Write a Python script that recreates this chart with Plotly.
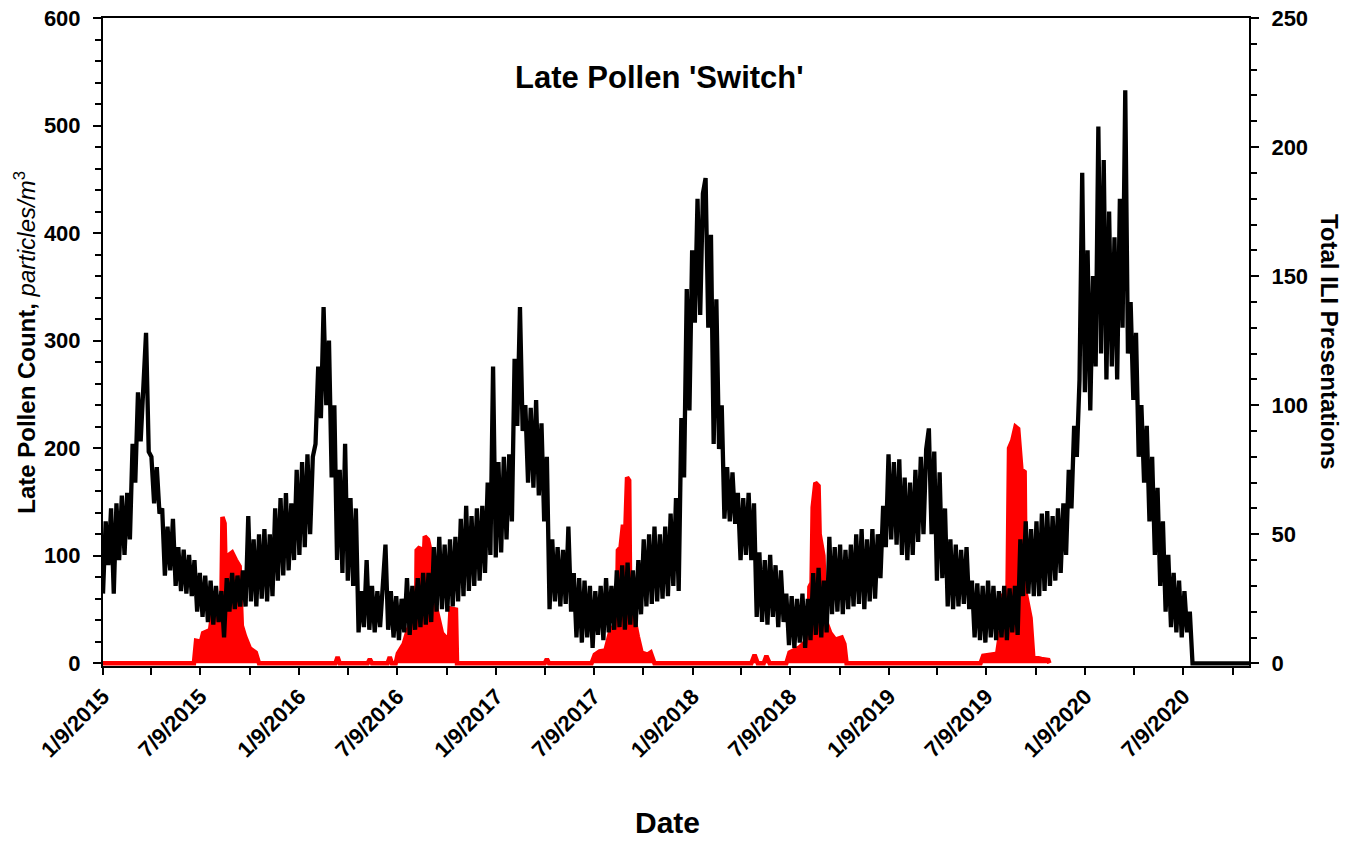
import pandas as pd
import plotly.graph_objects as go

# ---------------- data ----------------
# Total ILI presentations (right axis), values every 5 days starting 2015-01-09
ili_start = "2015-01-09"
ili_step_days = 5
ili_values = [
    27, 55, 38, 60, 27, 62, 40, 65, 42, 66,
    48, 85, 70, 105, 86, 112, 128, 82, 80, 62,
    76, 58, 60, 34, 53, 36, 56, 30, 45, 28,
    44, 27, 42, 26, 40, 20, 35, 18, 34, 16,
    32, 15, 30, 16, 28, 10, 33, 20, 35, 21,
    34, 22, 36, 22, 57, 24, 48, 22, 50, 25,
    52, 24, 50, 26, 60, 32, 64, 34, 66, 36,
    62, 40, 75, 42, 78, 45, 81, 50, 80, 85,
    115, 95, 138, 100, 125, 72, 100, 40, 75, 35,
    85, 32, 64, 30, 60, 12, 28, 14, 40, 13,
    30, 12, 28, 14, 30, 46, 13, 28, 10, 26,
    9, 25, 12, 33, 11, 30, 13, 33, 14, 35,
    15, 35, 16, 45, 20, 49, 21, 46, 20, 48,
    22, 49, 24, 56, 26, 61, 28, 57, 30, 60,
    32, 61, 35, 70, 42, 115, 41, 78, 43, 80,
    48, 81, 55, 118, 92, 138, 90, 100, 70, 99,
    68, 102, 65, 93, 55, 80, 21, 48, 24, 45,
    22, 44, 23, 53, 20, 35, 10, 33, 8, 32,
    10, 30, 6, 28, 11, 30, 9, 33, 12, 30,
    13, 36, 14, 38, 13, 39, 15, 36, 14, 40,
    19, 48, 22, 50, 23, 53, 24, 50, 25, 53,
    26, 58, 30, 64, 28, 95, 72, 145, 98, 160,
    132, 180, 135, 182, 188, 130, 166, 85, 141, 83,
    100, 56, 76, 55, 74, 54, 66, 40, 64, 42,
    66, 40, 62, 18, 43, 16, 40, 15, 42, 18,
    38, 14, 36, 16, 27, 7, 26, 6, 25, 8,
    27, 6, 25, 9, 35, 11, 37, 10, 32, 12,
    49, 19, 45, 20, 46, 19, 44, 21, 46, 22,
    50, 23, 52, 21, 48, 24, 52, 25, 50, 33,
    61, 45, 81, 48, 78, 46, 79, 42, 72, 40,
    70, 42, 75, 47, 80, 50, 83, 91, 50, 82,
    32, 74, 33, 60, 22, 48, 21, 46, 22, 44,
    23, 45, 21, 32, 10, 31, 9, 30, 8, 32,
    10, 30, 9, 28, 10, 30, 9, 29, 12, 30,
    11, 48, 26, 55, 27, 52, 26, 55, 26, 58,
    28, 59, 30, 57, 32, 60, 35, 62, 42, 75,
    60, 92, 80, 110, 190, 105, 160, 98, 150, 115,
    208, 120, 195, 110, 175, 115, 165, 110, 180, 130,
    222, 120, 140, 102, 128, 80, 100, 70, 92, 55,
    80, 42, 68, 30, 55, 20, 42, 14, 35, 12,
    32, 10, 28, 12, 20,
    0, 0, 0, 0, 0, 0, 0, 0, 0, 0, 0,
    0, 0, 0, 0, 0, 0, 0, 0, 0, 0, 0,
]

# Late pollen count (left axis), particles/m3
pollen_dates = [
    "2015-01-09", "2015-06-27", "2015-07-01", "2015-07-10", "2015-07-14",
    "2015-07-27", "2015-08-01", "2015-08-11", "2015-08-17", "2015-08-19",
    "2015-08-23", "2015-08-26", "2015-08-29", "2015-09-06", "2015-09-13",
    "2015-09-20", "2015-09-24", "2015-09-30", "2015-10-09", "2015-10-20",
    "2015-10-26",
    "2016-03-16", "2016-03-20", "2016-03-24", "2016-05-15", "2016-05-19",
    "2016-05-23", "2016-06-21", "2016-06-25", "2016-06-29", "2016-07-06",
    "2016-07-10", "2016-07-21", "2016-07-28", "2016-08-09", "2016-08-13",
    "2016-08-14", "2016-08-20", "2016-08-23", "2016-08-25", "2016-08-29",
    "2016-09-04", "2016-09-11", "2016-09-16", "2016-09-19", "2016-09-30",
    "2016-10-13", "2016-10-16", "2016-10-26", "2016-10-28",
    "2017-04-09", "2017-04-13", "2017-04-17", "2017-07-05", "2017-07-11",
    "2017-07-20", "2017-07-31", "2017-08-08", "2017-08-17", "2017-08-21",
    "2017-08-23", "2017-08-28", "2017-09-01", "2017-09-06", "2017-09-09",
    "2017-09-13", "2017-09-15", "2017-09-21", "2017-09-29", "2017-10-06",
    "2017-10-17", "2017-10-23", "2017-10-30",
    "2018-04-28", "2018-05-04", "2018-05-10", "2018-05-21", "2018-05-26",
    "2018-06-01", "2018-07-02", "2018-07-08", "2018-07-27", "2018-08-07",
    "2018-08-12", "2018-08-14", "2018-08-18", "2018-08-20", "2018-08-25",
    "2018-08-31", "2018-09-02", "2018-09-09", "2018-09-13", "2018-09-22",
    "2018-10-01", "2018-10-13", "2018-10-18", "2018-10-22",
    "2019-06-28", "2019-07-03", "2019-07-18", "2019-07-29", "2019-08-04",
    "2019-08-09", "2019-08-17", "2019-08-20", "2019-08-26", "2019-09-01",
    "2019-09-06", "2019-09-12", "2019-09-18", "2019-09-20", "2019-09-29",
    "2019-10-04", "2019-10-19", "2019-11-01", "2019-11-03",
]
pollen_values = [
    0, 0, 21, 20, 28,
    31, 50, 59, 55, 136,
    130, 60, 100, 103, 96,
    90, 35, 25, 14, 10,
    0,
    0, 6, 0, 0, 4,
    0, 0, 6, 0, 0,
    9, 18, 30, 45, 50,
    105, 108, 68, 68, 118,
    115, 99, 60, 52, 28,
    21, 51, 50, 0,
    0, 4, 0, 0, 8,
    11, 12, 28, 37, 40,
    105, 108, 127, 127, 173,
    170, 49, 45, 25, 10,
    8, 10, 0,
    0, 8, 0, 0, 7,
    0, 0, 10, 15, 20,
    22, 71, 75, 145, 168,
    165, 120, 100, 40, 28,
    22, 24, 18, 0,
    0, 7, 8, 9, 30,
    62, 60, 200, 207, 220,
    218, 180, 178, 65, 42,
    6, 4, 3, 0,
]

# labelled (6-monthly) and unlabelled (quarterly) date ticks
tick_dates = [
    "2015-01-09", "2015-07-09", "2016-01-09", "2016-07-09",
    "2017-01-09", "2017-07-09", "2018-01-09", "2018-07-09",
    "2019-01-09", "2019-07-09", "2020-01-09", "2020-07-09",
]
tick_labels = [
    "1/9/2015", "7/9/2015", "1/9/2016", "7/9/2016",
    "1/9/2017", "7/9/2017", "1/9/2018", "7/9/2018",
    "1/9/2019", "7/9/2019", "1/9/2020", "7/9/2020",
]
minor_tick_dates = [
    "2015-04-09", "2015-10-09", "2016-04-09", "2016-10-09",
    "2017-04-09", "2017-10-09", "2018-04-09", "2018-10-09",
    "2019-04-09", "2019-10-09", "2020-04-09", "2020-10-09",
]
x_range = ["2015-01-09", "2020-11-08"]
pollen_range = [-2.5, 600]
ili_range = [-2.5 * 250 / 600, 250]

# ---------------- figure ----------------
ili_dates = pd.date_range(ili_start, periods=len(ili_values), freq=f"{ili_step_days}D")

FONT = "Arial, 'Liberation Sans', sans-serif"

fig = go.Figure()
fig.add_trace(go.Scatter(
    x=pollen_dates, y=pollen_values, mode="lines",
    line=dict(color="#FF0000", width=4.5),
    fill="tozeroy", fillcolor="#FF0000",
    yaxis="y", name="Late Pollen", hoverinfo="skip",
))
fig.add_trace(go.Scatter(
    x=ili_dates, y=ili_values, mode="lines",
    line=dict(color="#000000", width=4.3),
    yaxis="y2", name="ILI", hoverinfo="skip",
))

tickfont = dict(family=FONT, size=22, color="black", weight="bold")

fig.update_layout(
    width=1358, height=844, autosize=False,
    margin=dict(l=103, r=109, t=18, b=178, pad=0),
    paper_bgcolor="white", plot_bgcolor="white",
    showlegend=False,
    font=dict(family=FONT, color="black"),
    xaxis=dict(
        type="date", range=x_range, automargin=False,
        tickmode="array", tickvals=tick_dates, ticktext=tick_labels,
        tickangle=-45, tickfont=tickfont,
        ticks="outside", ticklen=7, tickwidth=2, tickcolor="black",
        minor=dict(tickmode="array", tickvals=minor_tick_dates,
                   ticks="outside", ticklen=7, tickwidth=2,
                   tickcolor="black", showgrid=False),
        showline=True, linecolor="black", linewidth=2, mirror=True,
        showgrid=False, zeroline=False, layer="below traces",
    ),
    yaxis=dict(
        range=pollen_range, tick0=0, dtick=100, tickfont=tickfont,
        automargin=False,
        ticks="outside", ticklen=8, tickwidth=2, tickcolor="black",
        minor=dict(tick0=0, dtick=20, ticks="outside", ticklen=6, tickwidth=2,
                   tickcolor="black", showgrid=False),
        showline=True, linecolor="black", linewidth=2,
        showgrid=False, zeroline=False, ticklabelstandoff=8,
    ),
    yaxis2=dict(
        range=ili_range, tick0=0, dtick=50, tickfont=tickfont,
        automargin=False,
        overlaying="y", side="right", anchor="x",
        ticks="outside", ticklen=8, tickwidth=2, tickcolor="black",
        minor=dict(tick0=0, dtick=10, ticks="outside", ticklen=6, tickwidth=2,
                   tickcolor="black", showgrid=False),
        showline=True, linecolor="black", linewidth=2,
        showgrid=False, zeroline=False, ticklabelstandoff=8,
    ),
    annotations=[
        dict(text="<b>Late Pollen 'Switch'</b>", x=0.486, y=0.9085,
             xref="paper", yref="paper", showarrow=False,
             xanchor="center", yanchor="middle",
             font=dict(family=FONT, size=31, color="black")),
        dict(text="<b>Date</b>", x=0.493, y=-0.2415,
             xref="paper", yref="paper", showarrow=False,
             xanchor="center", yanchor="middle",
             font=dict(family=FONT, size=30, color="black")),
        dict(text="<b>Late Pollen Count,</b> <i>particles/m</i><sup>3</sup>",
             x=-0.0683, y=0.5, xref="paper", yref="paper", showarrow=False,
             textangle=-90, xanchor="center", yanchor="middle",
             font=dict(family=FONT, size=24, color="black")),
        dict(text="<b>Total ILI Presentations</b>",
             x=1.0707, y=0.5, xref="paper", yref="paper", showarrow=False,
             textangle=90, xanchor="center", yanchor="middle",
             font=dict(family=FONT, size=24, color="black")),
    ],
)

fig.write_html("out.html")
